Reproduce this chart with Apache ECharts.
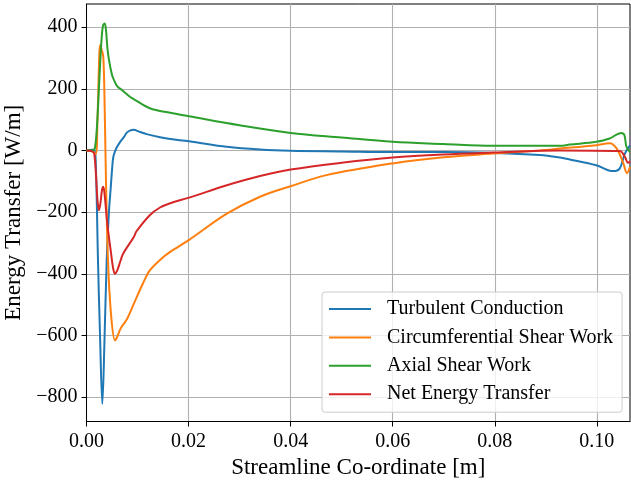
<!DOCTYPE html>
<html>
<head>
<meta charset="utf-8">
<script src="https://cdn.jsdelivr.net/npm/echarts@6/dist/echarts.min.js"></script>
<style>
html,body{margin:0;padding:0;background:#fff;}
#chart{width:631px;height:483px;}
</style>
</head>
<body>
<div id="chart"></div>
<script>
// Tick values
const xTicks = [0, 0.02, 0.04, 0.06, 0.08, 0.10];
const yTicks = [-800, -600, -400, -200, 0, 200, 400];

// Series names
const seriesNames = ['Turbulent Conduction', 'Circumferential Shear Work', 'Axial Shear Work', 'Net Energy Transfer'];

// Turbulent Conduction
const turbX = [0, 0.0011, 0.0015, 0.0018, 0.00225, 0.00265, 0.0031, 0.00355, 0.00396, 0.0044, 0.00475, 0.00505, 0.00525, 0.0057, 0.006, 0.0066, 0.0074, 0.0079, 0.0086, 0.0092, 0.0105, 0.0118, 0.0144, 0.0164, 0.0201, 0.0275, 0.034, 0.04, 0.05, 0.06, 0.07, 0.08, 0.0888, 0.0928, 0.0947, 0.0999, 0.1032, 0.1045, 0.1055, 0.1065];
const turbY = [0, 2, 3, -30, -356, -600, -822, -600, -356, -199, -120, -53, -21, 2, 12, 28, 45, 58, 65, 67, 60, 53, 43, 37, 30, 12, 3, -1, -3, -5, -5, -8, -15, -23, -29, -48, -67, -58, -10, 17];

// Circumferential Shear Work
const circX = [0, 0.0011, 0.0018, 0.00215, 0.00245, 0.00264, 0.0029, 0.00329, 0.00357, 0.00382, 0.00421, 0.0048, 0.00558, 0.006, 0.0067, 0.008, 0.0093, 0.0111, 0.0124, 0.0144, 0.0164, 0.0201, 0.0275, 0.034, 0.04, 0.047, 0.06, 0.07, 0.0796, 0.0888, 0.0928, 0.0999, 0.1025, 0.1039, 0.1052, 0.1059, 0.1065];
const circY = [0, -3, -12, 100, 280, 342, 330, 304, 131, -100, -356, -530, -616, -605, -577, -545, -496, -430, -389, -355, -329, -290, -205, -150, -116, -80, -42, -22, -10, 0, 6, 17, 23, 6, -42, -73, -53];

// Axial Shear Work
const axialX = [0, 0.0013, 0.00167, 0.00206, 0.00245, 0.0029, 0.00323, 0.00357, 0.00382, 0.00411, 0.00441, 0.005, 0.0054, 0.006, 0.007, 0.0085, 0.0093, 0.0124, 0.0164, 0.0201, 0.03, 0.04, 0.05, 0.06, 0.07, 0.0796, 0.0928, 0.0947, 0.0999, 0.1025, 0.1048, 0.1054, 0.1058, 0.1065];
const axialY = [0, 0, 10, 80, 207, 348, 405, 412, 390, 330, 293, 245, 228, 209, 195, 174, 166, 137, 122, 111, 82, 57, 42, 28, 21, 15, 15, 19, 28, 39, 57, 50, 12, -5];

// Net Energy Transfer
const netX = [0, 0.0011, 0.0015, 0.00186, 0.00215, 0.00245, 0.00274, 0.00304, 0.00329, 0.00353, 0.00407, 0.00474, 0.0052, 0.00558, 0.006, 0.0067, 0.0072, 0.0093, 0.0098, 0.0124, 0.0144, 0.0164, 0.0201, 0.0275, 0.034, 0.04, 0.05, 0.06, 0.07, 0.0796, 0.0928, 0.1045, 0.1055, 0.1061, 0.1065];
const netY = [0, -3, -10, -80, -160, -194, -170, -128, -118, -140, -236, -324, -380, -400, -390, -356, -334, -280, -262, -210, -185, -171, -153, -113, -83, -62, -40, -23, -13, -7, 0, -2, -21, -40, -35];

const colors = ['#1f77b4', '#ff7f0e', '#2ca02c', '#d62728'];
const FONT = '"Liberation Serif", "Times New Roman", serif';

function zip(xs, ys) { return xs.map((x, i) => [x, ys[i]]); }
const seriesData = [zip(turbX, turbY), zip(circX, circY), zip(axialX, axialY), zip(netX, netY)];

const chart = echarts.init(document.getElementById('chart'), null, {renderer: 'canvas'});
chart.setOption({
  animation: false,
  backgroundColor: '#fff',
  color: colors,
  grid: {
    left: 86.5, right: 1, top: 4, bottom: 61.5,
    show: true, borderColor: '#000', borderWidth: 1, backgroundColor: 'transparent',
    containLabel: false, outerBoundsMode: 'none'
  },
  legend: {
    orient: 'vertical',
    left: 322, top: 292,
    padding: [7, 9, 8, 7],
    icon: 'rect',
    itemWidth: 42, itemHeight: 2, itemGap: 8.4,
    backgroundColor: 'rgba(255,255,255,0.8)',
    borderColor: '#cccccc', borderWidth: 1, borderRadius: 3,
    textStyle: {fontFamily: FONT, fontSize: 20, color: '#000', padding: [0, 0, 0, 11], lineHeight: 20},
    data: seriesNames
  },
  xAxis: {
    type: 'value', min: 0, max: 0.1065,
    name: 'Streamline Co-ordinate [m]', nameLocation: 'middle', nameGap: 31,
    nameTextStyle: {fontFamily: FONT, fontSize: 23, color: '#000'},
    axisLine: {show: true, onZero: false, lineStyle: {color: '#000', width: 1}},
    axisTick: {show: true, inside: false, length: 5, customValues: xTicks, lineStyle: {color: '#000', width: 1}},
    axisLabel: {customValues: xTicks, formatter: v => v.toFixed(2), fontFamily: FONT, fontSize: 20, color: '#000', margin: 10},
    splitLine: {show: true, lineStyle: {color: '#b0b0b0', width: 1.1}}
  },
  yAxis: {
    type: 'value', min: -879, max: 475,
    name: 'Energy Transfer [W/m]', nameLocation: 'middle', nameGap: 57, nameRotate: 90,
    nameTextStyle: {fontFamily: FONT, fontSize: 23, color: '#000'},
    axisLine: {show: true, onZero: false, lineStyle: {color: '#000', width: 1}},
    axisTick: {show: true, inside: false, length: 5, customValues: yTicks, lineStyle: {color: '#000', width: 1}},
    axisLabel: {customValues: yTicks, formatter: v => String(v).replace('-', '\u2212'), fontFamily: FONT, fontSize: 20, color: '#000', margin: 9},
    splitLine: {show: true, lineStyle: {color: '#b0b0b0', width: 1.1}}
  },
  series: seriesNames.map((name, i) => ({
    name: name,
    type: 'line',
    data: seriesData[i],
    showSymbol: false,
    symbol: 'none',
    smooth: 0.35,
    lineStyle: {width: 2, color: colors[i]},
    itemStyle: {color: colors[i]},
    z: 3 + i
  }))
});
</script>
</body>
</html>
